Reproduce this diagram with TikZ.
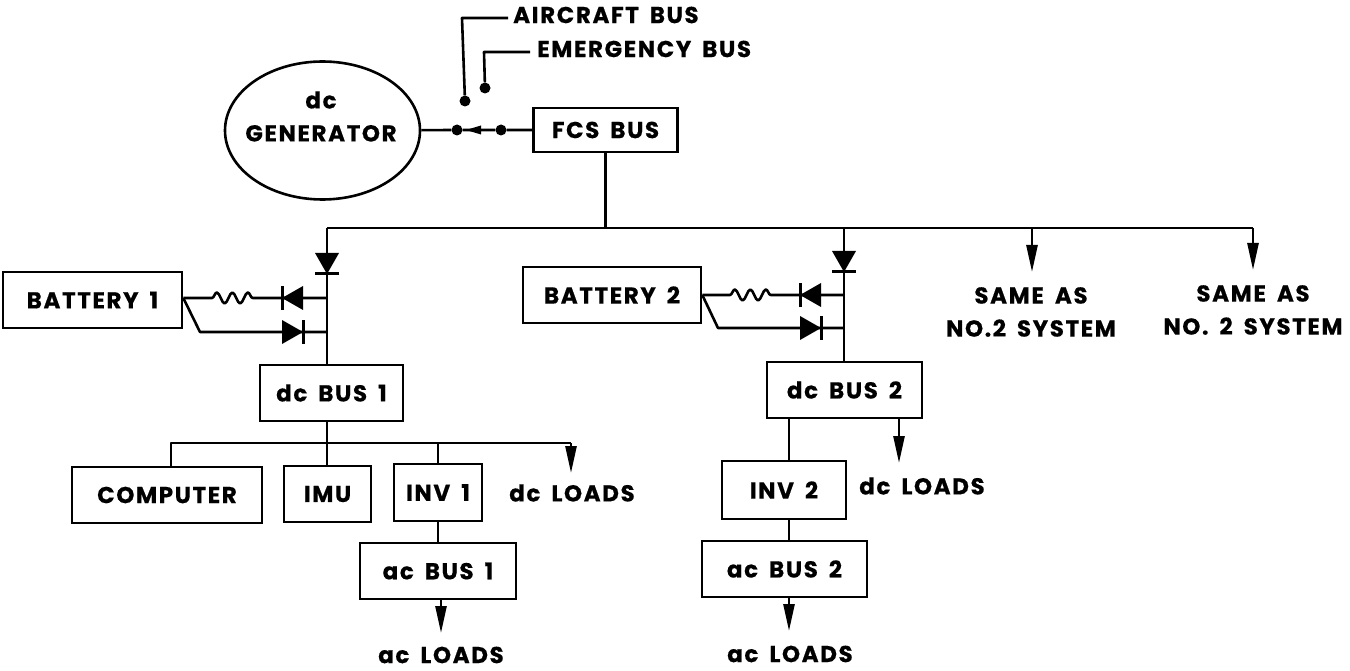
\documentclass[tikz,border=0pt]{standalone}
\usepackage{fontspec}
\setmainfont{Poppins}[LetterSpace=7,WordSpace=1.7,BoldFeatures={FakeBold=0.5}]
\usetikzlibrary{arrows.meta,calc,decorations.pathmorphing,shapes.geometric}

\begin{document}
\begin{tikzpicture}[
  x=1pt, y=-1pt,
  wire/.style={line width=2.6pt, line join=round, draw=black},
  feed/.style={wire, -{Triangle[length=27pt, width=11pt]}},
  res/.style={decoration={snake, amplitude=5.5pt, segment length=15.5pt}},
  unit/.style={draw=black, line width=2.6pt, inner sep=0pt, align=center, font=\fontsize{23}{33}\selectfont\bfseries},
  note/.style={inner sep=0pt, align=center, font=\fontsize{23}{33}\selectfont\bfseries},
  dot/.style={circle, fill=black, inner sep=0pt, minimum size=11pt},
  diode/.pic={
    \fill (0,0) -- (-21,-12) -- (-21,12) -- cycle;
    \draw[line width=3pt] (0,-12) -- (0,12);
  }
]
\useasboundingbox (0,0) rectangle (1350,671);

\node[unit, ellipse, minimum width=195pt, minimum height=138pt] (gen) at (322.5,130.5) {};
\node[note] (gent) at (321,116.5) {dc\\GENERATOR};
\node[unit, minimum width=144pt, minimum height=44pt] (fcs) at (605.5,130) {FCS BUS};
\node[dot] (sw1) at (457,130) {};
\node[dot] (sw2) at (501,130) {};
\node[dot] (air) at (465,101) {};
\node[dot] (emg) at (485,88) {};
\node[note, anchor=west] (airt) at (513,15) {AIRCRAFT BUS};
\node[note, anchor=west] (emgt) at (537,49) {EMERGENCY BUS};
\coordinate (aire) at (508,18);
\coordinate (emge) at (530,52);

\draw[wire] (gen) -- (sw1) -- (sw2) -- (fcs);
\fill (466,130) -- (481,125.5) -- (481,134.5) -- cycle;
\draw[wire] (air) -- (462,18) -- (aire);
\draw[wire] (emg) -- (484,52) -- (emge);

\coordinate (busl) at (327,228);
\coordinate (busm) at (844,228);
\coordinate (busa) at (1032,228);
\coordinate (busb) at (1253,228);
\draw[wire] (busl) -- (busb);
\draw[wire] (fcs) -- (fcs |- busl);

\node[unit, minimum width=179pt, minimum height=56pt] (bat1) at (92.5,300) {BATTERY 1};
\node[unit, minimum width=143pt, minimum height=56pt] (dcb1) at (331.5,393) {dc BUS 1};
\node[unit, minimum width=190pt, minimum height=56pt] (comp) at (167,495) {COMPUTER};
\node[unit, minimum width=87pt, minimum height=56pt] (imu) at (327.5,494) {IMU};
\node[unit, minimum width=88pt, minimum height=57pt] (inv1) at (438,492.5) {INV 1};
\node[unit, minimum width=156pt, minimum height=56pt] (acb1) at (438,571) {ac BUS 1};
\node[note] (dcl1) at (572,493) {dc LOADS};
\node[note] (acl1) at (441,655) {ac LOADS};

\draw[wire] (busl) -- (busl |- dcb1.north);
\pic at (327,274) [rotate=-90] {diode};
\coordinate (b1a) at (327,298);
\coordinate (b1b) at (327,332);
\draw[wire] (bat1.east |- b1a) -- (212,298) decorate[res] {-- (258,298)} -- (b1a);
\pic at (282,298) [rotate=180] {diode};
\draw[wire] (bat1.east |- b1a) -- (200,332) -- (b1b);
\pic at (303,332) {diode};

\coordinate (t1) at (327,443);
\coordinate (tl) at (171,443);
\coordinate (ta) at (438,443);
\coordinate (tr) at (571,443);
\draw[wire] (dcb1.south -| t1) -- (t1);
\draw[wire] (comp.north -| tl) -- (tl) -- (tr);
\draw[wire] (t1) -- (t1 |- imu.north);
\draw[wire] (ta) -- (inv1.north);
\draw[feed] (tr) -- (571,473);
\draw[wire] (inv1) -- (acb1);
\draw[feed] (acb1.south -| acl1) -- (441,633);

\node[unit, minimum width=178pt, minimum height=56pt] (bat2) at (612,295) {BATTERY 2};
\node[unit, minimum width=155pt, minimum height=56pt] (dcb2) at (844.5,390) {dc BUS 2};
\node[unit, minimum width=124pt, minimum height=58pt] (inv2) at (784,490) {INV 2};
\node[unit, minimum width=165pt, minimum height=56pt] (acb2) at (784.5,569) {ac BUS 2};
\node[note] (dcl2) at (922,486) {dc LOADS};
\node[note] (acl2) at (790,654) {ac LOADS};

\draw[wire] (busm) -- (busm |- dcb2.north);
\pic at (844,272) [rotate=-90] {diode};
\coordinate (b2a) at (844,295);
\coordinate (b2b) at (844,328);
\draw[wire] (bat2.east |- b2a) -- (730,295) decorate[res] {-- (777,295)} -- (b2a);
\pic at (800,295) [rotate=180] {diode};
\draw[wire] (bat2.east |- b2a) -- (718,328) -- (b2b);
\pic at (821,328) {diode};

\coordinate (s2) at (789,418);
\coordinate (l2) at (899,418);
\draw[wire] (s2) -- (s2 |- inv2.north);
\draw[feed] (l2) -- (899,463);
\draw[wire] (s2 |- inv2.south) -- (s2 |- acb2.north);
\draw[feed] (s2 |- acb2.south) -- (789,631);

\node[note] (same1) at (1031,312) {SAME AS\\NO.2 SYSTEM};
\node[note] (same2) at (1253,310) {SAME AS\\NO. 2 SYSTEM};
\draw[feed] (busa) -- (1032,272);
\draw[feed] (busb) -- (1253,270);
\end{tikzpicture}
\end{document}
